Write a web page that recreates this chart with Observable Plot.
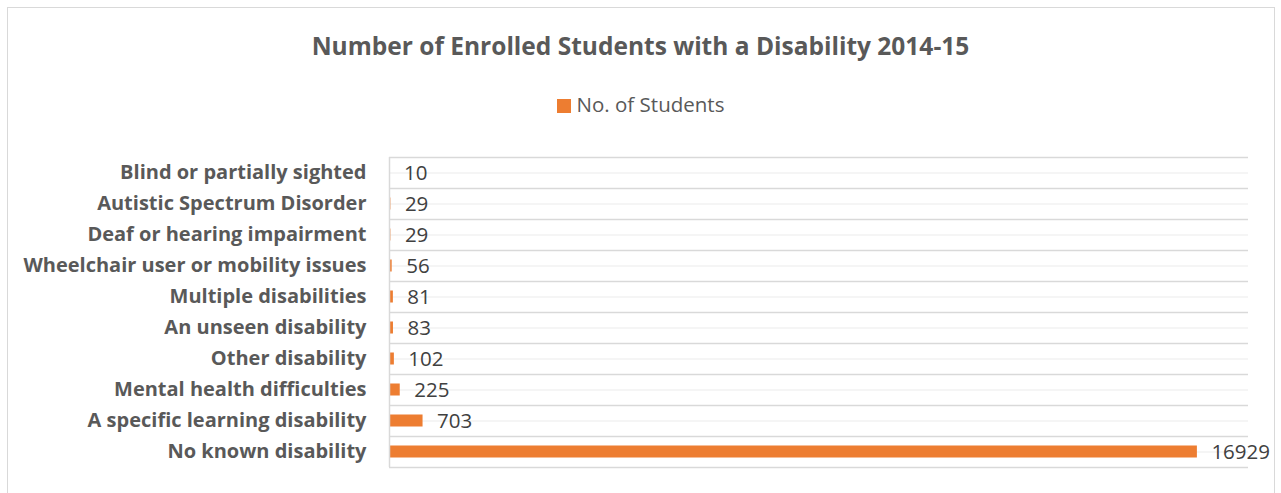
<!DOCTYPE html>
<html>
<head>
<meta charset="utf-8">
<script src="https://cdn.jsdelivr.net/npm/d3@7"></script>
<script src="https://cdn.jsdelivr.net/npm/@observablehq/plot@0.6"></script>
<style>
  html, body { margin: 0; padding: 0; background: #fff; }
  #wrap { position: relative; width: 1281px; height: 493px; overflow: hidden; font-family: "Open Sans", sans-serif; }
  #frame { position: absolute; left: 7px; top: 7px; width: 1268px; height: 500px; border: 1px solid #d9d9d9; box-sizing: border-box; }
  #title { position: absolute; left: 0; width: 1281px; top: 29px; line-height: 34px; text-align: center; font-size: 24.5px; font-weight: bold; color: #595959; }
  #legend { position: absolute; left: 0; width: 1281px; top: 90px; line-height: 28px; text-align: center; font-size: 20.5px; color: #595959; }
  #legend span.sw { display: inline-block; width: 14px; height: 14px; background: #ED7D31; margin-right: 6px; vertical-align: -1px; }
  #chart { position: absolute; left: 0; top: 140px; }
</style>
</head>
<body>
<div id="wrap">
  <div id="frame"></div>
  <div id="title">Number of Enrolled Students with a Disability 2014-15</div>
  <div id="legend"><span class="sw"></span>No. of Students</div>
  <div id="chart"></div>
</div>
<script>
const categories = [
  "Blind or partially sighted",
  "Autistic Spectrum Disorder",
  "Deaf or hearing impairment",
  "Wheelchair user or mobility issues",
  "Multiple disabilities",
  "An unseen disability",
  "Other disability",
  "Mental health difficulties",
  "A specific learning disability",
  "No known disability"
];
const students = [10, 29, 29, 56, 81, 83, 102, 225, 703, 16929];
const xMax = 18000;

const data = categories.map((c, i) => ({category: c, value: students[i]}));

const W = 1281, H = 353;
const mTop = 17, mBottom = 26, mLeft = 389, mRight = 33;
const step = (H - mTop - mBottom) / categories.length;

const chart = Plot.plot({
  width: W,
  height: H,
  marginTop: mTop,
  marginBottom: mBottom,
  marginLeft: mLeft,
  marginRight: mRight,
  style: {fontFamily: "Open Sans, sans-serif", background: "transparent", overflow: "visible"},
  x: {domain: [0, xMax], axis: null},
  y: {domain: categories, padding: 0, axis: null, label: null},
  marks: [
    Plot.ruleY(categories, {y: d => d, stroke: "#f2f2f2", strokeWidth: 1.5}),
    Plot.ruleY(categories, {y: d => d, dy: -step / 2, stroke: "#d9d9d9", strokeWidth: 1.5}),
    Plot.ruleY([categories[categories.length - 1]], {y: d => d, dy: step / 2, stroke: "#d9d9d9", strokeWidth: 1.5}),
    Plot.barX(data, {x: "value", y: "category", fill: "#ED7D31", insetTop: 9.5, insetBottom: 9.5}),
    Plot.ruleX([0], {stroke: "#d9d9d9", strokeWidth: 1.5}),
    Plot.axisY({tickSize: 0, tickPadding: 23, fontSize: 20, fontWeight: "bold", fill: "#595959", anchor: "left", label: null}),
    Plot.text(data, {x: "value", y: "category", text: d => String(d.value), textAnchor: "start", dx: 14, fontSize: 20.5, fill: "#404040"})
  ]
});
document.getElementById("chart").appendChild(chart);
</script>
</body>
</html>
